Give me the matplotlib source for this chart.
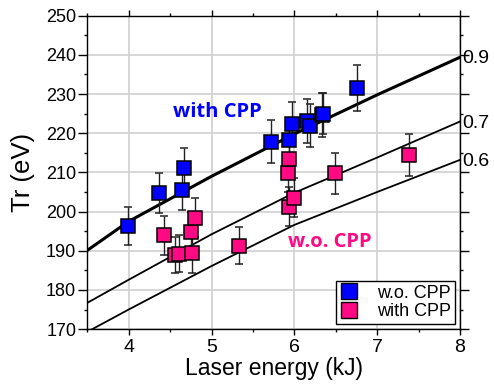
import matplotlib.pyplot as plt
from matplotlib.lines import Line2D
from matplotlib.ticker import MultipleLocator

# blue points (legend says "w.o. CPP")
blue_e = [3.99, 4.36, 4.64, 4.67, 5.715, 5.94, 5.97, 6.15, 6.19, 6.33, 6.35, 6.76]
blue_t = [196.3, 204.8, 205.5, 211.1, 217.8, 218.3, 222.4, 223.2, 221.9, 224.6, 225.0, 231.6]
blue_err = [4.9, 5.1, 5.0, 5.2, 5.5, 5.0, 5.6, 5.6, 5.5, 5.6, 5.3, 5.8]

# pink points (legend says "with CPP")
pink_e = [4.43, 4.56, 4.61, 4.75, 4.77, 4.80, 5.33, 5.92, 5.93, 5.94, 6.00, 6.49, 7.38]
pink_t = [193.9, 188.8, 189.2, 194.9, 189.4, 198.4, 191.3, 209.9, 213.3, 201.2, 203.5, 209.8, 214.4]
pink_err = [5.0, 4.6, 4.7, 5.0, 5.0, 5.0, 4.8, 5.0, 5.0, 5.0, 5.0, 5.2, 5.3]

# model curves
curve_e = [3.5, 4, 5, 6, 7, 8]
curve_09 = [190.1, 197.5, 209.0, 219.8, 229.8, 239.4]
curve_07 = [176.7, 182.6, 194.2, 204.8, 213.8, 223.0]
curve_06 = [169.3, 175.0, 186.1, 196.6, 205.0, 213.2]
curve_labels = ["0.9", "0.7", "0.6"]

BLUE = "#0000ff"
PINK = "#ff0a84"

fig = plt.figure(figsize=(4.94, 3.89), dpi=100)
ax = fig.add_axes([0.1767, 0.154, 0.9312 - 0.1767, 0.9596 - 0.154])

ax.grid(True, color="#d3d3d3", lw=1.3, zorder=0)
ax.set_axisbelow(True)

ax.plot(curve_e, curve_09, color="black", lw=2.2, zorder=2)
ax.plot(curve_e, curve_07, color="black", lw=1.3, zorder=2)
ax.plot(curve_e, curve_06, color="black", lw=1.3, zorder=2)

for e, t, err, c in [(blue_e, blue_t, blue_err, BLUE), (pink_e, pink_t, pink_err, PINK)]:
    ax.errorbar(e, t, yerr=err, fmt="s", ms=10.5, mfc=c, mec="black", mew=1.1,
                ecolor="#222222", elinewidth=1.0, capsize=3, capthick=1.0, zorder=3)

ax.set_xlim(3.5, 8)
ax.set_ylim(170, 250)
ax.xaxis.set_major_locator(MultipleLocator(1))
ax.xaxis.set_minor_locator(MultipleLocator(0.5))
ax.yaxis.set_major_locator(MultipleLocator(10))
ax.yaxis.set_minor_locator(MultipleLocator(5))
ax.tick_params(which="both", direction="out", top=True, right=True, width=1.0)
ax.tick_params(which="major", length=4.5)
ax.tick_params(which="minor", length=2.5)
ax.tick_params(axis="y", which="major", length=6.5)
ax.tick_params(axis="x", labelsize=14, pad=2.5)
ax.tick_params(axis="y", labelsize=13, pad=1.5)
for lab in ax.get_xticklabels() + ax.get_yticklabels():
    lab.set_family("Liberation Sans")
for sp in ax.spines.values():
    sp.set_linewidth(1.0)

ax.set_xlabel("Laser energy (kJ)", fontsize=16.5, family="Liberation Sans", labelpad=1)
ax.set_ylabel("Tr (eV)", fontsize=18.5, family="Liberation Sans", labelpad=8)

for lab, vals in zip(curve_labels, [curve_09, curve_07, curve_06]):
    ax.text(8.03, vals[-1] - 0.4, lab, fontsize=14, family="Liberation Sans",
            va="center", ha="left", clip_on=False)

ax.text(4.535, 225.4, "with CPP", color=BLUE, fontsize=14.5, fontweight="bold",
        family="Open Sans", va="center", ha="left")
ax.text(5.925, 192.3, "w.o. CPP", color=PINK, fontsize=14.5, fontweight="bold",
        family="Open Sans", va="center", ha="left")

handles = [
    Line2D([], [], ls="none", marker="s", ms=11.5, mfc=BLUE, mec="black", mew=1.0),
    Line2D([], [], ls="none", marker="s", ms=11.5, mfc=PINK, mec="black", mew=1.0),
]
leg = ax.legend(handles, ["w.o. CPP", "with CPP"], loc="lower right",
                bbox_to_anchor=(0.9866, 0.016), borderaxespad=0,
                prop={"family": "Liberation Sans", "size": 13},
                fancybox=False, framealpha=1, edgecolor="black", handletextpad=1.0,
                borderpad=0.2, labelspacing=0.1, handlelength=1.1)
leg.get_frame().set_linewidth(1.0)

fig.savefig("out.png", dpi=100)
